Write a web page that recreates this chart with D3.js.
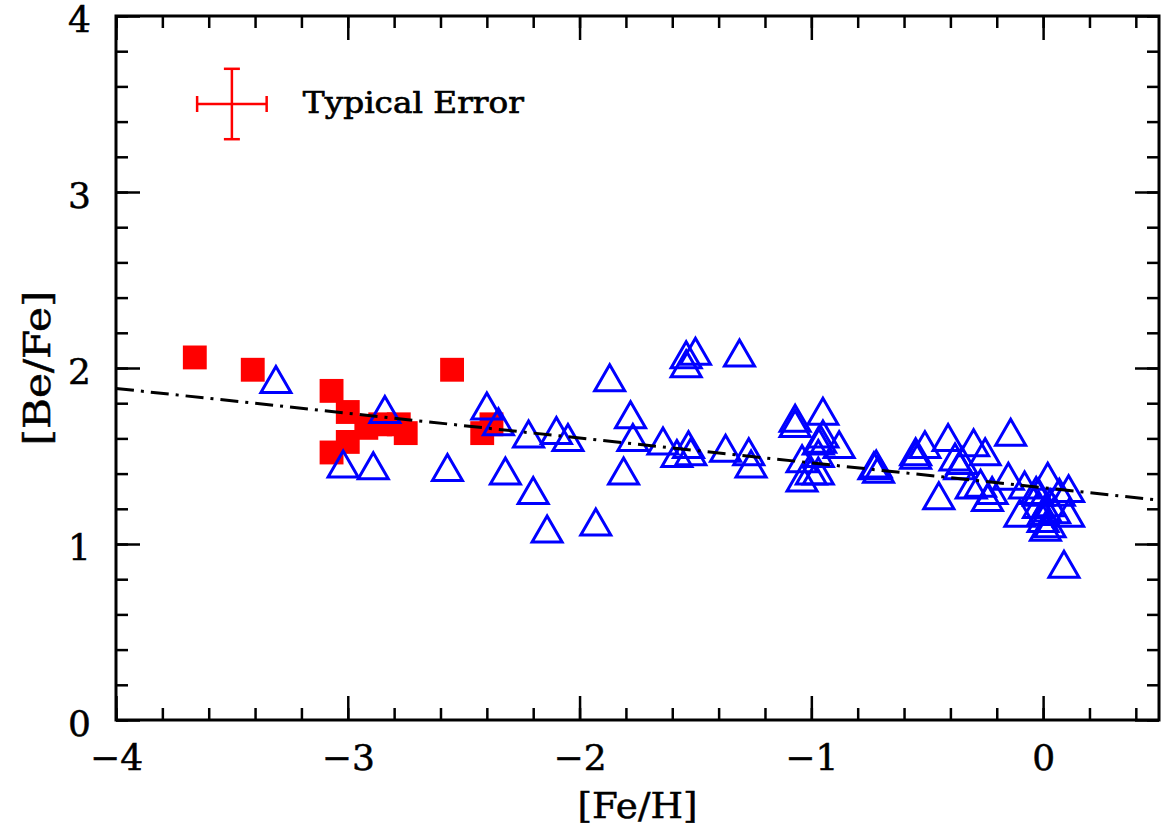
<!DOCTYPE html>
<html>
<head>
<meta charset="utf-8">
<script src="https://cdn.jsdelivr.net/npm/d3@7"></script>
<style>
  body { margin: 0; background: #fff; }
  text { font-family: "DejaVu Serif", serif; fill: #000; }
</style>
</head>
<body>
<div id="chart"></div>
<script>
// red filled squares
var feHRed = [-3.66, -3.41, -3.07, -3.00, -3.07, -3.00, -2.92, -2.86, -2.78, -2.75, -2.55, -2.42, -2.38];
var beFeRed = [2.06, 1.99, 1.87, 1.75, 1.52, 1.58, 1.66, 1.68, 1.68, 1.63, 1.99, 1.63, 1.68];

// blue open triangles
var feHBlue = [-3.31, -3.02, -2.89, -2.84, -2.57, -2.40, -2.35, -2.32, -2.22, -2.20,
    -2.14, -2.10, -2.05, -1.93, -1.87, -1.81, -1.78, -1.77, -1.64, -1.58,
    -1.54, -1.54, -1.53, -1.52, -1.50, -1.37, -1.31, -1.27, -1.26, -1.07,
    -1.07, -1.04, -1.04, -1.00, -0.97, -0.97, -0.96, -0.97, -0.95, -0.95,
    -0.88, -0.73, -0.72, -0.71, -0.55, -0.55, -0.51, -0.45, -0.41, -0.38,
    -0.36, -0.35, -0.30, -0.25, -0.31, -0.27, -0.24, -0.22, -0.15, -0.14,
    -0.10, -0.08, -0.03, -0.02, -0.02, 0.00, 0.00, 0.01, 0.01, 0.02,
    0.03, 0.03, 0.05, 0.07, 0.09, 0.11, 0.11];
var beFeBlue = [1.91, 1.43, 1.42, 1.74, 1.41, 1.76, 1.67, 1.39, 1.60, 1.28,
    1.06, 1.62, 1.58, 1.10, 1.92, 1.39, 1.71, 1.58, 1.56, 1.49,
    2.05, 2.00, 1.54, 1.50, 2.07, 1.52, 2.06, 1.50, 1.43, 1.69,
    1.66, 1.46, 1.35, 1.39, 1.39, 1.56, 1.57, 1.49, 1.73, 1.60,
    1.54, 1.42, 1.43, 1.40, 1.50, 1.48, 1.54, 1.25, 1.58, 1.47,
    1.42, 1.45, 1.55, 1.50, 1.31, 1.32, 1.24, 1.28, 1.36, 1.61,
    1.15, 1.31, 1.28, 1.27, 1.20, 1.12, 1.16, 1.18, 1.07, 1.36,
    1.09, 1.21, 1.17, 1.27, 0.86, 1.29, 1.15];

// linear fit [Be/Fe] = intercept + slope*[Fe/H]
var fitIntercept = 1.32;
var fitSlope = -0.141;

// typical error bar
var errCenter = [-3.5, 3.5];
var errSize = [0.15, 0.2];
var errLabel = "Typical Error";

var xMajor = [-4, -3, -2, -1, 0];
var yMajor = [0, 1, 2, 3, 4];

var margin = { top: 16, right: 2, bottom: 109, left: 116 };
var svgWidth = 1161, svgHeight = 829;
var width = svgWidth - margin.left - margin.right;
var height = svgHeight - margin.top - margin.bottom;

var svg = d3.select("#chart").append("svg")
    .attr("width", svgWidth)
    .attr("height", svgHeight);

var g = svg.append("g")
    .attr("transform", "translate(" + margin.left + "," + margin.top + ")");

var x = d3.scaleLinear().domain([-4, 0.5]).range([0, width]);
var y = d3.scaleLinear().domain([0, 4]).range([height, 0]);

var xMinor = d3.range(-4, 0.51, 0.2).map(function (d) { return +d.toFixed(1); });
var yMinor = d3.range(0, 4.01, 0.2).map(function (d) { return +d.toFixed(1); });

var fmt = d3.format("d");

function styleAxis(sel) {
    sel.select(".domain").remove();
    sel.selectAll(".tick line").attr("stroke", "#000").attr("stroke-width", 2.5);
    sel.selectAll("text")
        .style("font-family", "DejaVu Serif").style("font-size", "36px")
        .attr("fill", "#000").attr("stroke", "#000").attr("stroke-width", 0.5);
}

// minor ticks, all four sides
g.append("g").attr("transform", "translate(0," + height + ")")
    .call(d3.axisBottom(x).tickValues(xMinor).tickSize(-12).tickFormat("")).call(styleAxis);
g.append("g")
    .call(d3.axisTop(x).tickValues(xMinor).tickSize(-12).tickFormat("")).call(styleAxis);
g.append("g")
    .call(d3.axisLeft(y).tickValues(yMinor).tickSize(-12).tickFormat("")).call(styleAxis);
g.append("g").attr("transform", "translate(" + width + ",0)")
    .call(d3.axisRight(y).tickValues(yMinor).tickSize(-12).tickFormat("")).call(styleAxis);

// major ticks
g.append("g").attr("transform", "translate(0," + height + ")")
    .call(d3.axisBottom(x).tickValues(xMajor).tickSize(-24).tickPadding(24).tickFormat(fmt)).call(styleAxis);
g.append("g")
    .call(d3.axisTop(x).tickValues(xMajor).tickSize(-24).tickFormat("")).call(styleAxis);
var yAxisG = g.append("g")
    .call(d3.axisLeft(y).tickValues(yMajor).tickSize(-24).tickPadding(25).tickFormat(fmt)).call(styleAxis);
yAxisG.selectAll("text").attr("dy", "0.42em");
g.append("g").attr("transform", "translate(" + width + ",0)")
    .call(d3.axisRight(y).tickValues(yMajor).tickSize(-24).tickFormat("")).call(styleAxis);

// frame
g.append("rect")
    .attr("x", 0).attr("y", 0)
    .attr("width", width).attr("height", height)
    .attr("fill", "none").attr("stroke", "#000").attr("stroke-width", 3);

// axis titles
g.append("text")
    .attr("x", width / 2).attr("y", height + 98)
    .attr("text-anchor", "middle")
    .attr("textLength", 120).attr("lengthAdjust", "spacingAndGlyphs")
    .attr("stroke", "#000").attr("stroke-width", 0.5)
    .style("font-size", "36px")
    .text("[Fe/H]");

svg.append("text")
    .attr("transform", "translate(50," + (margin.top + y(2.0)) + ") rotate(-90)")
    .attr("text-anchor", "middle")
    .attr("textLength", 155).attr("lengthAdjust", "spacingAndGlyphs")
    .attr("stroke", "#000").attr("stroke-width", 0.5)
    .style("font-size", "37px")
    .text("[Be/Fe]");

// red squares
var redData = feHRed.map(function (d, i) { return { x: d, y: beFeRed[i] }; });
g.selectAll(".sq").data(redData).enter().append("path")
    .attr("class", "sq")
    .attr("d", d3.symbol(d3.symbolSquare, 570))
    .attr("transform", function (d) { return "translate(" + x(d.x) + "," + y(d.y) + ")"; })
    .attr("fill", "#ff0000");

// blue triangles
var blueData = feHBlue.map(function (d, i) { return { x: d, y: beFeBlue[i] }; });
g.selectAll(".tri").data(blueData).enter().append("path")
    .attr("class", "tri")
    .attr("d", d3.symbol(d3.symbolTriangle, 390))
    .attr("transform", function (d) { return "translate(" + x(d.x) + "," + y(d.y) + ")"; })
    .attr("fill", "none")
    .attr("stroke", "#0000ff")
    .attr("stroke-width", 3)
    .attr("stroke-linejoin", "miter");

// fit line
var fitLine = d3.line()
    .x(function (d) { return x(d); })
    .y(function (d) { return y(fitIntercept + fitSlope * d); });
g.append("path")
    .datum(x.domain())
    .attr("d", fitLine)
    .attr("fill", "none")
    .attr("stroke", "#000")
    .attr("stroke-width", 3)
    .attr("stroke-dasharray", "18,7,3,7");

// typical error cross
var eg = g.append("g").attr("stroke", "#ff0000").attr("stroke-width", 2.5);
var ex = x(errCenter[0]), ey = y(errCenter[1]);
var ex0 = x(errCenter[0] - errSize[0]), ex1 = x(errCenter[0] + errSize[0]);
var ey0 = y(errCenter[1] - errSize[1]), ey1 = y(errCenter[1] + errSize[1]);
var cap = 8;
eg.append("line").attr("x1", ex0).attr("x2", ex1).attr("y1", ey).attr("y2", ey);
eg.append("line").attr("x1", ex).attr("x2", ex).attr("y1", ey0).attr("y2", ey1);
eg.append("line").attr("x1", ex0).attr("x2", ex0).attr("y1", ey - cap).attr("y2", ey + cap);
eg.append("line").attr("x1", ex1).attr("x2", ex1).attr("y1", ey - cap).attr("y2", ey + cap);
eg.append("line").attr("x1", ex - cap).attr("x2", ex + cap).attr("y1", ey0).attr("y2", ey0);
eg.append("line").attr("x1", ex - cap).attr("x2", ex + cap).attr("y1", ey1).attr("y2", ey1);

g.append("text")
    .attr("x", x(errCenter[0]) + 71).attr("y", y(errCenter[1]) + 9)
    .attr("textLength", 221).attr("lengthAdjust", "spacingAndGlyphs")
    .style("font-size", "30px")
    .attr("stroke", "#000").attr("stroke-width", 0.7)
    .text(errLabel);
</script>
</body>
</html>
